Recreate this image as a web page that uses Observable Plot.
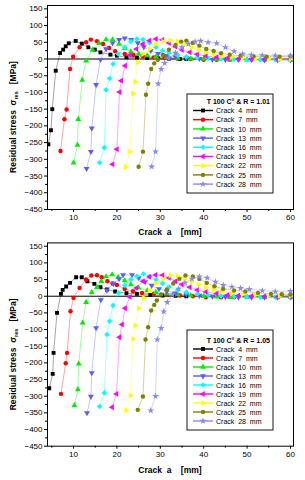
<!DOCTYPE html>
<html><head><meta charset="utf-8">
<script src="https://cdn.jsdelivr.net/npm/d3@7"></script>
<script src="https://cdn.jsdelivr.net/npm/@observablehq/plot@0.6"></script>
<style>
body{margin:0;background:#fff;}
#wrap{width:305px;}
#wrap svg{display:block;}
</style>
</head><body><div id="wrap"></div>
<script>
// ---------- labels / categories ----------
const crackLabels = ["Crack  4  mm","Crack  7  mm","Crack  10  mm","Crack  13  mm","Crack  16  mm","Crack  19  mm","Crack  22  mm","Crack  25  mm","Crack  28  mm"];
const panelTitles = ["T 100 C\u00b0 & R = 1.01","T 100 C\u00b0 & R = 1.05"];
const xLabel = "Crack  a    [mm]";
const yLabelMain = "Residual stress  \u03c3";
const yLabelSub = "res";
const yLabelUnit = "   [MPa]";
const xTicks = [10,20,30,40,50,60];
const xMinorTicks = [5,15,25,35,45,55];
const yTicks = [-450,-400,-350,-300,-250,-200,-150,-100,-50,0,50,100,150];
const yMinorTicks = [-425,-375,-325,-275,-225,-175,-125,-75,-25,25,75,125];
const seriesColors = ["#000000","#ff0000","#00ee00","#5c5cff","#00ffff","#ff00ff","#ffff00","#808000","#8a8aee"];

// ---------- R = 1.01 ----------
const r101_c4 = [[4.2,-255],[4.8,-213],[5.1,-150],[5.9,-35],[6.9,18],[7.6,28],[8.2,38],[8.9,47],[10.5,54],[11.9,46],[13.4,35],[14.9,28],[16.2,20],[18.5,13],[20,10],[22.2,5],[24.6,4],[27,3],[29.5,2],[32,1],[34.5,0],[36,0]];
const r101_c7 = [[7,-275],[7.9,-180],[8.4,-151],[9.2,-30],[9.9,7],[11.4,35],[12.9,50],[14,58],[15.4,53],[16.8,45],[18.2,33],[19.6,23],[21.8,15],[23.8,12],[26,8],[28.5,5],[31,3],[34,1],[37,0],[40,-2],[43,-2],[46,-2]];
const r101_c10 = [[10,-310],[10.9,-257],[11.1,-180],[12,-63],[12.9,-5],[14.4,27],[15.9,47],[17.5,58],[19,58],[20.5,45],[21.8,32],[23.2,22],[25,15],[27,10],[29,7],[31.5,5],[34,3],[37,1],[40,0],[43,-1],[46,-2],[50,-2],[54,-2],[57,-2],[60,-2]];
const r101_c13 = [[13,-328],[14,-277],[14.2,-207],[15.2,-77],[16.2,-2],[17.5,30],[19,48],[20.5,58],[21.8,62],[23.3,58],[24.8,48],[26.2,36],[27.8,25],[29.5,16],[31.5,10],[33.5,6],[36,3],[39,1],[42,-1],[45,-2],[48,-2],[51,-2],[54,-3],[57,-3],[60,-3]];
const r101_c16 = [[16,-310],[17.1,-265],[17.5,-92],[18.3,-58],[19.1,-15],[20.3,15],[21.8,35],[23.2,52],[24.6,60],[26,58],[27.5,48],[29,35],[30.5,25],[32,18],[34,12],[36,7],[38.5,4],[41,2],[44,0],[47,-1],[50,-2],[53,-2],[56.5,-2],[60,-2]];
const r101_c19 = [[19,-315],[20,-270],[20.6,-99],[21,-65],[21.9,-20],[23,12],[24.5,30],[26,45],[27.5,55],[29,60],[30.5,57],[32,48],[33.5,37],[35,27],[36.8,20],[38.5,14],[40.5,9],[43,5],[45.5,3],[48,1],[51,0],[54,-1],[57,-1],[60,-1]];
const r101_c22 = [[22,-323],[23,-277],[23.7,-103],[24.2,-68],[24.8,-10],[26,15],[27.5,30],[29,45],[30.6,52],[32.3,56],[34,52],[35.6,45],[37.2,35],[38.8,27],[40.5,20],[42.3,14],[44.2,9],[46.5,6],[49,3],[52,2],[55,1],[57.5,0],[60,0]];
const r101_c25 = [[25,-322],[26,-277],[26.7,-107],[27.2,-74],[27.9,-30],[28.6,-13],[29.4,-2],[30.6,12],[32,28],[33.5,42],[34.8,52],[36,55],[37.5,48],[39,40],[40.6,30],[42.3,24],[44,17],[46,13],[48.5,10],[51.5,8],[54.5,7],[57.5,7],[60,8]];
const r101_c28 = [[28,-322],[28.9,-277],[29.5,-74],[30.2,-30],[31,-12],[32,2],[33.5,18],[35,35],[36.5,45],[38,52],[39.3,54],[41,50],[43,47],[45,35],[47,23],[49,15],[51,12],[53.5,11],[56.5,10],[60,10]];

// ---------- R = 1.05 ----------
const r105_c4 = [[4.4,-276],[5.2,-233],[5.4,-170],[6.2,-50],[7.1,7],[7.5,19],[8.3,29],[9.2,40],[10.6,57],[11.9,57],[13.2,45],[14.8,37],[16.2,27],[17.7,20],[19.6,14],[22.2,9],[24.6,7],[27.7,4],[30.5,2],[33.5,1],[36,0]];
const r105_c7 = [[7.1,-293],[8.2,-201],[8.5,-170],[9.3,-45],[10,-5],[11.4,25],[12.9,50],[14.1,62],[15.4,63],[16.5,57],[17.8,45],[19,38],[20,34],[21.8,22],[23.7,15],[25.8,10],[28.5,7],[31.5,4],[34.5,2],[37.5,0],[40.5,-3],[44,-3],[47,-3]];
const r105_c10 = [[10.2,-328],[11,-280],[11.2,-203],[12.1,-80],[12.9,-18],[14.2,12],[15.4,27],[16.4,45],[17.5,59],[18.9,65],[20.3,57],[21.8,47],[23.2,35],[25,25],[27,17],[29,12],[31.5,8],[34,5],[37,2],[40,0],[43,-2],[46,-3],[50,-3],[54,-3],[57,-3],[60,-3]];
const r105_c13 = [[13.1,-350],[14,-301],[14.2,-230],[15.2,-95],[16.3,-11],[17.7,18],[19.2,38],[20.5,52],[21.4,64],[23.5,64],[25,55],[26.5,43],[28,32],[29.7,22],[31.5,15],[33.5,9],[36,5],[39,2],[42,0],[45,-2],[48,-3],[51,-3],[54,-3],[57,-3],[60,-3]];
const r105_c16 = [[16,-331],[17.1,-290],[17.7,-115],[18.3,-75],[19.1,-28],[20.4,10],[21.8,32],[23.2,50],[24.6,60],[26.1,67],[27.5,60],[29,50],[30.5,38],[32,28],[34,19],[36,12],[38.5,7],[41,3],[44,1],[47,-1],[50,-2],[53,-3],[56.5,-3],[60,-3]];
const r105_c19 = [[18.9,-333],[19.9,-293],[20.6,-123],[21.2,-85],[21.9,-36],[23,-2],[24.5,25],[26,45],[27.5,58],[28.9,64],[30.5,63],[32,55],[33.5,45],[35,35],[36.8,27],[38.5,19],[40.5,13],[43,8],[45.5,4],[48,2],[51,0],[54,-1],[57,-2],[60,-2]];
const r105_c22 = [[22.1,-343],[23.1,-298],[23.7,-128],[24.2,-88],[25,-36],[26.2,-5],[27.5,18],[29,38],[30.6,52],[32.3,62],[34,60],[35.6,52],[37.2,43],[38.8,35],[40.5,27],[42.3,20],[44.2,14],[46.5,9],[49,6],[52,4],[55,2],[57.5,1],[60,1]];
const r105_c25 = [[24.8,-341],[26,-301],[26.6,-130],[27.2,-93],[27.9,-43],[28.6,-26],[29.2,-13],[30.2,5],[31.5,20],[33,38],[34.4,52],[35.8,62],[37.5,59],[39,52],[40.7,40],[42.5,30],[44.5,22],[47,17],[49.6,14],[52.5,10],[55.5,7],[58,6],[60,5]];
const r105_c28 = [[27.8,-343],[28.9,-300],[29.3,-130],[30.2,-96],[30.8,-46],[31.6,-18],[32.8,5],[34.2,22],[35.7,40],[37.3,52],[39,59],[40.8,55],[42.7,43],[44.5,33],[46.5,28],[48.5,24],[50.5,21],[53.5,17],[56.5,14],[60,15]];

const panelSeries = [
  [r101_c4,r101_c7,r101_c10,r101_c13,r101_c16,r101_c19,r101_c22,r101_c25,r101_c28],
  [r105_c4,r105_c7,r105_c10,r105_c13,r105_c16,r105_c19,r105_c22,r105_c25,r105_c28]
];

// ---------- symbols ----------
function rotatedSymbol(sym, deg) {
  const a = deg * Math.PI / 180, c = Math.cos(a), s = Math.sin(a);
  return {draw(ctx, size) {
    const p = {
      moveTo: (x, y) => ctx.moveTo(x*c - y*s, x*s + y*c),
      lineTo: (x, y) => ctx.lineTo(x*c - y*s, x*s + y*c),
      closePath: () => ctx.closePath(),
      rect: (x, y, w, h) => { p.moveTo(x, y); p.lineTo(x + w, y); p.lineTo(x + w, y + h); p.lineTo(x, y + h); p.closePath(); }
    };
    sym.draw(p, size);
  }};
}
const seriesSymbols = [
  d3.symbolSquare, d3.symbolCircle, d3.symbolTriangle,
  rotatedSymbol(d3.symbolTriangle, 180), rotatedSymbol(d3.symbolSquare, 45),
  rotatedSymbol(d3.symbolTriangle, -90), rotatedSymbol(d3.symbolTriangle, 90),
  d3.symbolCircle, d3.symbolStar
];

const FONT = "'Liberation Sans', Arial, sans-serif";
const layouts = [
  {mt: 5, mb: 31, xlabelY: 235, boxY: 94, boxH: 99, titleY: 104, row0: 110.5, rowStep: 9.2},
  {mt: 2.4, mb: 34.3, xlabelY: 233, boxY: 90, boxH: 100, titleY: 102.5, row0: 109, rowStep: 9.0}
];

function drawPanel(seriesList, title, L) {
  const R = 2.2;
  const marks = [
    Plot.ruleY([0], {stroke: "#000", strokeWidth: 1}),
    ...seriesList.map((pts, i) => Plot.line(pts, {x: d => d[0], y: d => d[1], stroke: seriesColors[i], strokeWidth: 0.8, strokeOpacity: 0.45, clip: true})),
    ...seriesList.map((pts, i) => Plot.dot(pts, {x: d => d[0], y: d => d[1], fill: seriesColors[i], stroke: "none", symbol: seriesSymbols[i], r: R, clip: true})),
    Plot.axisX({ticks: xTicks, tickSize: 3, tickPadding: 2, label: null}),
    Plot.axisX({ticks: xMinorTicks, tickSize: 2, tickFormat: () => "", label: null}),
    Plot.axisY({ticks: yTicks, tickSize: 3, tickPadding: 2, label: null}),
    Plot.axisY({ticks: yMinorTicks, tickSize: 2, tickFormat: () => "", label: null}),
    Plot.frame({stroke: "#000", strokeWidth: 1})
  ];
  const svg = Plot.plot({
    width: 305, height: 240,
    marginLeft: 47, marginRight: 12, marginTop: L.mt, marginBottom: L.mb,
    x: {domain: [4, 60.7]},
    y: {domain: [-450, 160]},
    style: {fontFamily: FONT, fontSize: "8px", color: "#000", background: "#fff"},
    marks
  });
  const s = d3.select(svg);
  // x label
  s.append("text").attr("x", 170).attr("y", L.xlabelY).attr("text-anchor", "middle")
    .attr("font-family", FONT).attr("font-weight", "bold").attr("font-size", 8.5)
    .style("white-space", "pre").text(xLabel);
  // y label
  const yl = s.append("text").attr("transform", `translate(16,${L.mt + 112}) rotate(-90)`)
    .attr("text-anchor", "middle").attr("font-family", FONT).attr("font-weight", "bold")
    .attr("font-size", 8.5).style("white-space", "pre");
  yl.append("tspan").text(yLabelMain);
  yl.append("tspan").attr("dy", 2).attr("font-size", 5.5).text(yLabelSub);
  yl.append("tspan").attr("dy", -2).text(yLabelUnit);
  // legend
  const g = s.append("g").attr("text-anchor", "start");
  g.append("rect").attr("x", 187).attr("y", L.boxY).attr("width", 86).attr("height", L.boxH)
    .attr("fill", "#fff").attr("stroke", "#000").attr("stroke-width", 0.9);
  g.append("text").attr("x", 270).attr("y", L.titleY).attr("text-anchor", "end")
    .attr("font-family", FONT).attr("font-weight", "bold").attr("font-size", 7).text(title);
  crackLabels.forEach((lab, i) => {
    const cy = L.row0 + i * L.rowStep;
    g.append("line").attr("x1", 193).attr("x2", 213).attr("y1", cy).attr("y2", cy)
      .attr("stroke", seriesColors[i]).attr("stroke-width", 1.4);
    g.append("path").attr("transform", `translate(203,${cy})`)
      .attr("d", d3.symbol(seriesSymbols[i], Math.PI * R * R)())
      .attr("fill", seriesColors[i]);
    g.append("text").attr("x", 216).attr("y", cy + 2.6).attr("text-anchor", "start")
      .attr("font-family", FONT).attr("font-size", 7).attr("fill", "#000")
      .style("white-space", "pre").text(lab);
  });
  return svg;
}

const wrap = document.getElementById("wrap");
panelSeries.forEach((ser, k) => wrap.appendChild(drawPanel(ser, panelTitles[k], layouts[k])));
</script>
</body></html>
